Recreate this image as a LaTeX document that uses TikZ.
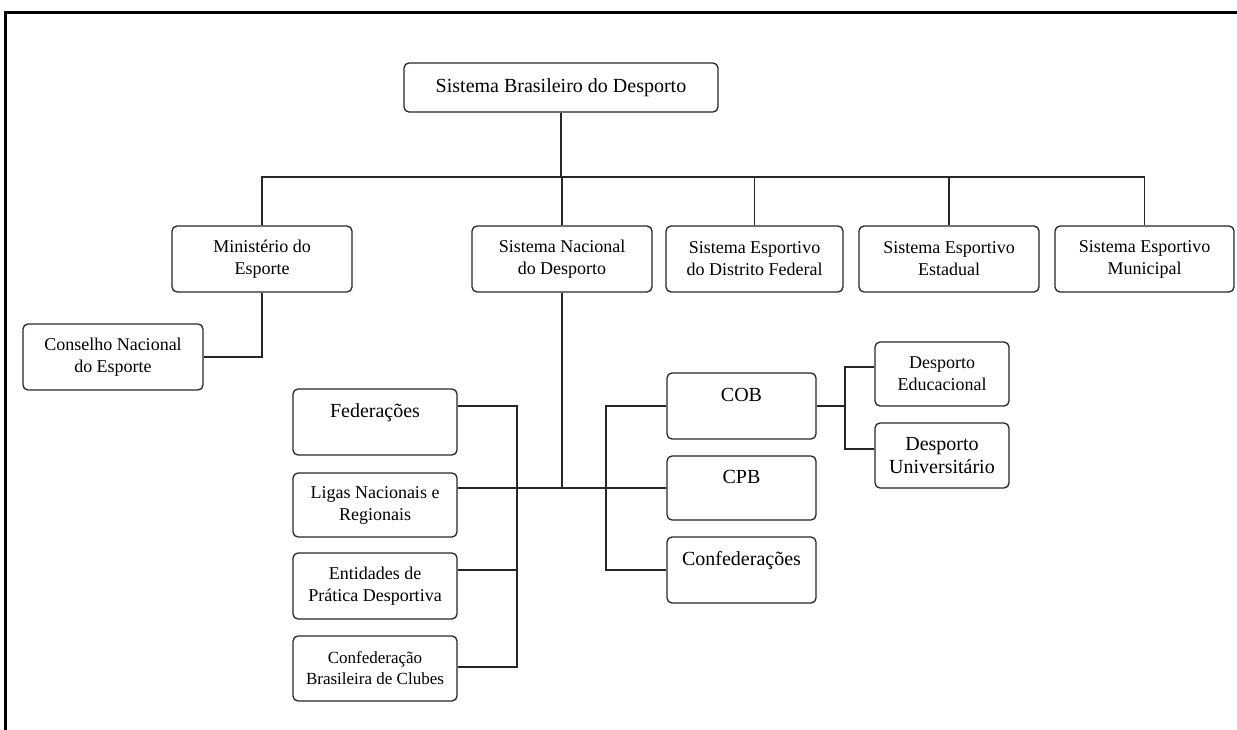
\documentclass[tikz,border=0pt]{standalone}
\usepackage{fontspec}
\setmainfont{Liberation Serif}
\newcommand{\fsbig}{\fontsize{20}{23}\selectfont}
\newcommand{\fsmid}{\fontsize{18}{22}\selectfont}
\newcommand{\fssmall}{\fontsize{17}{21}\selectfont}
\tikzset{
  box/.style={draw=black!85, line width=1.3pt, rounded corners=5pt, align=center, inner sep=0pt, font=\fsmid},
  big/.style={font=\fsbig},
  small/.style={font=\fssmall},
  link/.style={draw=black!85, line width=1.2pt},
  frame/.style={draw=black, line width=3pt}
}
\begin{document}
\begin{tikzpicture}[x=1pt,y=-1pt]
\useasboundingbox (0,0) rectangle (1237,730);
\draw[frame] (1237,13) -- (5.5,13) -- (5.5,730);

% nodes
\node[box,big,minimum width=314,minimum height=49] (top) at (561,87.5) {Sistema Brasileiro do Desporto};
\node[box,minimum width=180,minimum height=66] (min) at (262,259) {Ministério do\\Esporte};
\node[box,minimum width=180,minimum height=66] (snd) at (562,259) {Sistema Nacional\\do Desporto};
\node[box,minimum width=177,minimum height=66] (df) at (754.5,259) {Sistema Esportivo\\do Distrito Federal};
\node[box,minimum width=180,minimum height=66] (est) at (949,259) {Sistema Esportivo\\Estadual};
\node[box,minimum width=179,minimum height=66] (mun) at (1144.5,259) {Sistema Esportivo\\Municipal};
\node[box,minimum width=180,minimum height=66] (cons) at (113,357) {Conselho Nacional\\do Esporte};

\node[box,big,minimum width=164,minimum height=66] (fed) at (375,422) {Federações\\\phantom{X}};
\node[box,minimum width=164,minimum height=64] (lig) at (375,505) {Ligas Nacionais e\\Regionais};
\node[box,minimum width=164,minimum height=66] (ent) at (375,586) {Entidades de\\Prática Desportiva};
\node[box,small,minimum width=164,minimum height=65] (cbc) at (375,668.5) {Confederação\\Brasileira de Clubes};

\node[box,big,minimum width=149,minimum height=66] (cob) at (741.5,406) {COB\\\phantom{X}};
\node[box,big,minimum width=149,minimum height=64] (cpb) at (741.5,488) {CPB\\\phantom{X}};
\node[box,big,minimum width=149,minimum height=66] (conf) at (741.5,570) {Confederações\\\phantom{X}};

\node[box,minimum width=134,minimum height=64] (edu) at (942,374) {Desporto\\Educacional};
\node[box,big,minimum width=134,minimum height=65] (uni) at (942,455.5) {Desporto\\Universitário};

% helper coordinates
\coordinate (bus) at (561,177);
\coordinate (hub) at (562,488);
\coordinate (lbt) at (517,406);
\coordinate (lbb) at (517,667);
\coordinate (ent0) at (517,570);
\coordinate (rbt) at (606,406);
\coordinate (rbb) at (606,570);
\coordinate (ubt) at (845,367);
\coordinate (ubb) at (845,449);

% top tree
\draw[link] (top.south) -- (top.south |- bus);
\draw[link] (min.north) -- (min.north |- bus) -- (mun.north |- bus) -- (mun.north);
\draw[link] (snd.north) -- (snd.north |- bus);
\draw[link] (df.north) -- (df.north |- bus);
\draw[link] (est.north) -- (est.north |- bus);

% ministerio -> conselho
\draw[link] (min.south) -- (min.south |- cons.east) -- (cons.east);

% sistema nacional
\draw[link] (snd.south) -- (hub);
\draw[link] (lig.east |- hub) -- (cpb.west);
\draw[link] (fed.east |- lbt) -- (lbt) -- (lbb) -- (cbc.east |- lbb);
\draw[link] (ent.east |- ent0) -- (ent0);
\draw[link] (cob.west) -- (rbt) -- (rbb) -- (conf.west);

% COB
\draw[link] (cob.east) -- (ubt |- cob.east);
\draw[link] (edu.west |- ubt) -- (ubt) -- (ubb) -- (uni.west |- ubb);
\end{tikzpicture}
\end{document}
